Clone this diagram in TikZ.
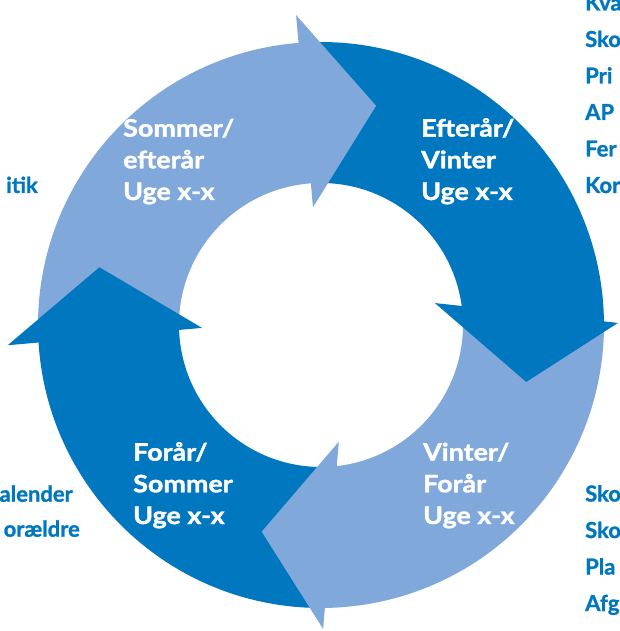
\documentclass[tikz,border=0pt]{standalone}
\usepackage{fontspec}
\setmainfont{Lato}[BoldFeatures={FakeBold=1.2}]
\newfontfamily\segfont{Lato}[FakeStretch=1.12,BoldFeatures={FakeBold=1.5}]
\definecolor{lys}{RGB}{128,168,218}
\definecolor{mork}{RGB}{0,119,190}
\def\ro{283pt}
\def\ri{142pt}
\begin{document}
\begin{tikzpicture}[x=1pt,y=1pt,
    seg/.style={text=white,font=\segfont\fontsize{24}{31.7}\selectfont\bfseries,align=left,anchor=base west,inner sep=0pt},
    side/.style={text=mork,font=\fontsize{22}{36.5}\selectfont\bfseries,inner sep=0pt}]
    \useasboundingbox (-321,-306) rectangle (298,325);
    \fill[lys] (181.6:\ro) arc[start angle=181.6,end angle=92.5,radius=\ro] -- (91.6:\ri) arc[start angle=91.6,end angle=180,radius=\ri] -- cycle;
    \fill[mork] (92.5:\ro) arc[start angle=92.5,end angle=-0.4,radius=\ro] -- (5.7:\ri) arc[start angle=5.7,end angle=91.6,radius=\ri] -- cycle;
    \fill[lys] (-0.4:\ro) arc[start angle=-0.4,end angle=-91.2,radius=\ro] -- (-85.5:\ri) arc[start angle=-85.5,end angle=5.7,radius=\ri] -- cycle;
    \fill[mork] (-91.2:\ro) arc[start angle=-91.2,end angle=-178.4,radius=\ro] -- (-180:\ri) arc[start angle=-180,end angle=-85.5,radius=\ri] -- cycle;
    \fill[lys] (93.9:118pt) -- (75.9:226pt) -- (94.6:311pt) -- cycle;
    \fill[mork] (10.9:116pt) -- (-15.5:213pt) -- (0.4:297pt) -- cycle;
    \fill[lys] (-81.3:118pt) -- (-106:215pt) -- (-89.6:304pt) -- cycle;
    \fill[mork] (181.4:119pt) -- (165.4:229pt) -- (183.7:314pt) -- cycle;
    \node[seg] (somefter) at (-198,125) {Sommer/\\efterår\\Uge x-x};
    \node[seg] (eftvin) at (100,125) {Efterår/\\Vinter\\Uge x-x};
    \node[seg] (forsom) at (-188,-199) {Forår/\\Sommer\\Uge x-x};
    \node[seg] (vinfor) at (102,-199) {Vinter/\\Forår\\Uge x-x};
    \node[side,anchor=base west,align=left] (hojreop) at (264,132) {Kva\\Sko\\Pri\\AP\\Fer\\Kor};
    \node[side,anchor=base west,align=left] (hojrened) at (264,-286) {Sko\\Sko\\Pla\\Afg};
    \node[side,anchor=base east] (venstreop) at (-283,132) {itik};
    \node[side,anchor=base east] (kalender) at (-248,-176.7) {alender};
    \node[side,anchor=base east] (foraeldre) at (-241,-211.7) {orældre};
\end{tikzpicture}
\end{document}
